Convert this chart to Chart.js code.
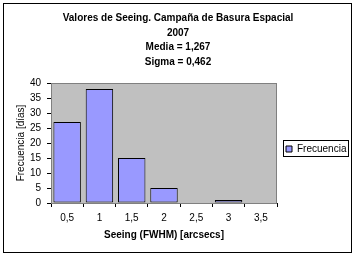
<!DOCTYPE html>
<html>
<head>
<meta charset="utf-8">
<script src="https://cdn.jsdelivr.net/npm/chart.js@4/dist/chart.umd.min.js"></script>
<style>
  html, body { margin: 0; padding: 0; background: #fff; }
  #wrap { width: 356px; height: 257px; }
</style>
</head>
<body>
<div id="wrap"><canvas id="myChart" width="356" height="257"></canvas></div>
<script>
const categories = ['0,5', '1', '1,5', '2', '2,5', '3', '3,5'];
const frecuencia = [27, 38, 15, 5, 0, 1, 0];
const titleLines = ['Valores de Seeing. Campaña de Basura Espacial', '2007', 'Media = 1,267', 'Sigma = 0,462'];
const yMin = 0, yMax = 40, yStep = 5;

const FONT = 'Liberation Sans, Arial, sans-serif';

// gray plot area, outer frame and legend frame like the spreadsheet chart
const frames = {
    id: 'frames',
    afterLayout(chart) {
        const lg = chart.legend;
        lg.top += 6;
        lg.bottom += 6;
    },
    beforeDatasetsDraw(chart) {
        const { ctx, chartArea: a } = chart;
        ctx.save();
        ctx.fillStyle = '#C0C0C0';
        ctx.fillRect(a.left, a.top, a.right - a.left, a.bottom - a.top);
        ctx.strokeStyle = '#808080';
        ctx.lineWidth = 1;
        ctx.strokeRect(a.left + 0.5, a.top + 0.5, a.right - a.left - 1, a.bottom - a.top);
        ctx.restore();
    },
    afterDraw(chart) {
        const { ctx } = chart;
        ctx.save();
        ctx.strokeStyle = '#000';
        ctx.lineWidth = 1;
        ctx.strokeRect(3.5, 3.5, 348, 249);
        const hb = chart.legend.legendHitBoxes[0];
        if (hb) {
            const l = Math.round(hb.left) - 2.5, t = Math.round(hb.top) - 3.5;
            ctx.strokeRect(l, t, 65, 16);
        }
        ctx.restore();
    }
};

const ctx = document.getElementById('myChart');
new Chart(ctx, {
    type: 'bar',
    data: {
        labels: categories,
        datasets: [{
            label: 'Frecuencia',
            data: frecuencia,
            backgroundColor: '#9999FF',
            borderColor: '#000',
            borderWidth: (c) => (c.raw ? 1 : 0),
            borderSkipped: false,
            barPercentage: 0.85,
            categoryPercentage: 1
        }]
    },
    options: {
        responsive: false,
        animation: false,
        devicePixelRatio: 1,
        layout: { padding: 0, autoPadding: false },
        plugins: {
            title: {
                display: true,
                text: titleLines,
                color: '#000',
                font: { family: FONT, size: 10, weight: 'bold', lineHeight: 1.45 },
                padding: { top: 11, bottom: 14 }
            },
            legend: {
                position: 'right',
                fullSize: false,
                maxWidth: 79,
                labels: {
                    boxWidth: 6,
                    boxHeight: 6,
                    padding: 9,
                    color: '#000',
                    font: { family: FONT, size: 10 }
                }
            },
            tooltip: { enabled: false }
        },
        scales: {
            x: {
                grid: { display: true, offset: true, drawOnChartArea: false, color: '#000', tickLength: 4 },
                border: { color: '#000' },
                ticks: { color: '#000', font: { family: FONT, size: 10 }, padding: 5, maxRotation: 0 },
                title: {
                    display: true,
                    text: 'Seeing (FWHM) [arcsecs]',
                    color: '#000',
                    font: { family: FONT, size: 10, weight: 'bold' },
                    padding: { top: 0, bottom: 16 }
                },
                afterFit(s) { s.height = 54; }
            },
            y: {
                min: yMin,
                max: yMax,
                grid: { drawOnChartArea: false, color: '#000', tickLength: 4 },
                border: { color: '#000' },
                ticks: { stepSize: yStep, color: '#000', font: { family: FONT, size: 10 }, padding: 6 },
                title: {
                    display: true,
                    text: 'Frecuencia [días]',
                    color: '#000',
                    font: { family: FONT, size: 10 },
                    padding: { top: 15, bottom: 0 }
                },
                afterFit(s) { s.width = 51; }
            }
        }
    },
    plugins: [frames]
});
</script>
</body>
</html>
